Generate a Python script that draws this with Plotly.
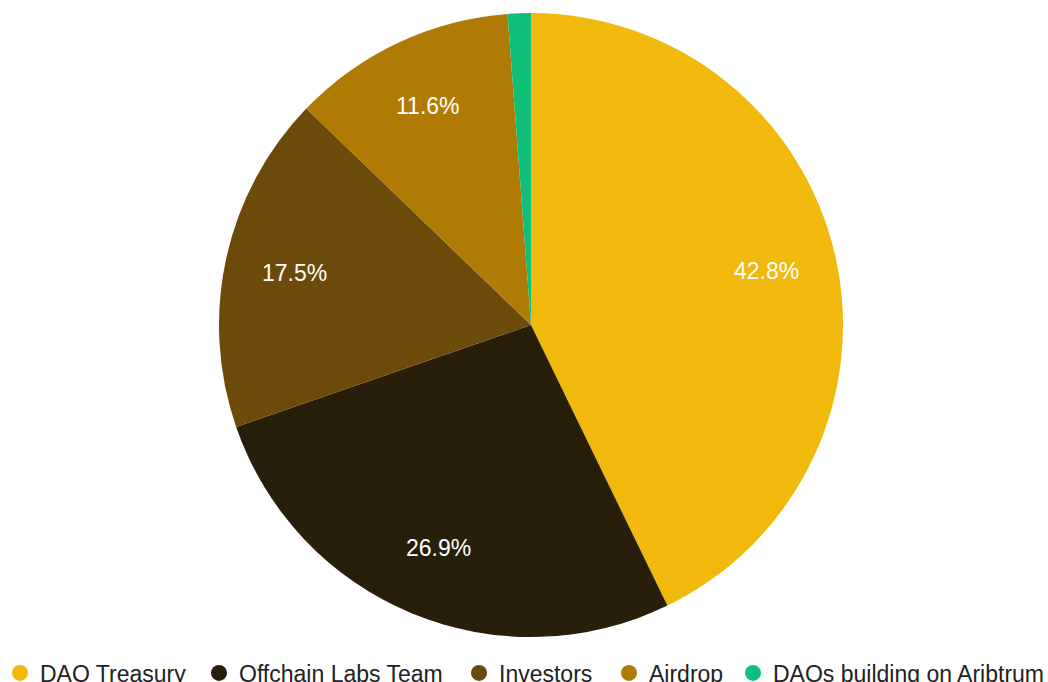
import math
import plotly.graph_objects as go

labels = ["DAO Treasury", "Offchain Labs Team", "Investors", "Airdrop", "DAOs building on Aribtrum"]
values = [42.8, 26.9, 17.5, 11.6, 1.2]
colors = ["#F1B90C", "#281F0A", "#6C4B0A", "#B07B05", "#10C07A"]
show_label = [True, True, True, True, False]
legend_x_px = [0, 199, 459, 609, 733]

W, H = 1048, 682
cx, cy, r = 531, 325, 312
label_r = 0.775
FONT = "Arial, Liberation Sans, sans-serif"

fig = go.Figure()
fig.add_trace(go.Pie(
    labels=labels,
    values=values,
    marker=dict(colors=colors, line=dict(width=0)),
    sort=False,
    direction="clockwise",
    rotation=0,
    textinfo="none",
    hoverinfo="label+percent",
    showlegend=False,
    domain=dict(x=[(cx - r) / W, (cx + r) / W], y=[1 - (cy + r) / H, 1 - (cy - r) / H]),
))

# percent labels placed along each slice's mid-angle
total = sum(values)
cum = 0.0
for v, s in zip(values, show_label):
    mid = (cum + v / 2) / total * 2 * math.pi
    cum += v
    if not s:
        continue
    px = cx + label_r * r * math.sin(mid)
    py = cy - label_r * r * math.cos(mid)
    fig.add_annotation(
        x=px / W, y=1 - py / H, xref="paper", yref="paper",
        text=f"{v / total * 100:.1f}%", showarrow=False,
        font=dict(color="white", size=23, family=FONT),
        xanchor="center", yanchor="middle",
    )

layout_legends = {}
for i, (lab, col, lx) in enumerate(zip(labels, colors, legend_x_px)):
    key = "legend" if i == 0 else f"legend{i + 1}"
    fig.add_trace(go.Scatter(
        x=[None], y=[None], mode="markers", name=lab,
        marker=dict(symbol="circle", size=18, color=col),
        showlegend=True, legend=key,
    ))
    layout_legends[key] = dict(
        orientation="h",
        x=lx / W, xanchor="left", xref="container",
        y=1 - 673 / H, yanchor="middle", yref="container",
        font=dict(size=23, color="#222222", family=FONT),
        itemsizing="trace",
        bgcolor="rgba(0,0,0,0)",
    )

fig.update_layout(
    width=W, height=H,
    margin=dict(l=0, r=0, t=0, b=0, autoexpand=False),
    paper_bgcolor="white",
    plot_bgcolor="white",
    xaxis=dict(visible=False),
    yaxis=dict(visible=False),
    font=dict(family=FONT, size=22, color="#222222"),
    **layout_legends,
)

fig.write_html("out.html")
